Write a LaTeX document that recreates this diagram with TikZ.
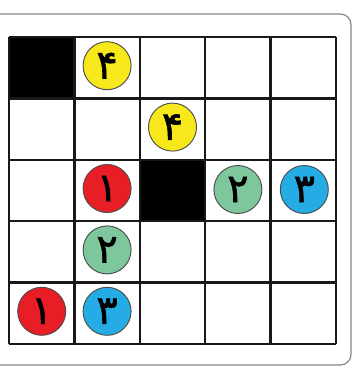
\documentclass[tikz,border=0pt]{standalone}
\usepackage{fontspec}
\newfontfamily\arabicfont[Script=Arabic, FakeBold=1.5]{DejaVu Sans}
\TeXXeTstate=1
\definecolor{tokyellow}{RGB}{247,232,28}
\definecolor{tokred}{RGB}{232,30,38}
\definecolor{tokgreen}{RGB}{126,198,156}
\definecolor{tokblue}{RGB}{38,172,228}
\definecolor{framegray}{RGB}{130,130,130}
\newcommand{\fadigit}[1]{\arabicfont\beginR #1\endR}

\begin{document}
\begin{tikzpicture}[
    x=0.03cm, y=-0.03cm,
    gridline/.style={line width=1.9pt, draw=black!90},
    token/.style={circle, draw=black!70, line width=0.8pt, inner sep=0pt,
                  minimum size=1.44cm, font=\fontsize{34}{34}\selectfont}
]
\path[use as bounding box] (0,0) rectangle (355,367);
\clip (0,0) rectangle (355,367);
% outer frame
\draw[framegray, line width=1pt, rounded corners=9pt] (-12,14) rectangle (351,365);
% blocked cells
\fill[black] (9,37) rectangle (74.4,98.4);
\fill[black] (139.8,159.8) rectangle (205.2,221.2);
% grid
\foreach \i in {0,...,5}
  \draw[gridline] ({9+65.4*\i},37) -- ({9+65.4*\i},344);
\foreach \j in {0,...,5}
  \draw[gridline] (9,{37+61.4*\j}) -- (336,{37+61.4*\j});
% tokens
\node[token, fill=tokyellow] (yellowA) at (107.1,65.7) {\fadigit{۴}};
\node[token, fill=tokyellow] (yellowB) at (172.5,127.1) {\fadigit{۴}};
\node[token, fill=tokred]    (redA)    at (107.1,188.5) {\fadigit{۱}};
\node[token, fill=tokgreen]  (greenA)  at (237.9,189.5) {\fadigit{۲}};
\node[token, fill=tokblue]   (blueA)   at (304.3,189.5) {\fadigit{۳}};
\node[token, fill=tokgreen]  (greenB)  at (107.1,249.9) {\fadigit{۲}};
\node[token, fill=tokred]    (redB)    at (41.7,311.3) {\fadigit{۱}};
\node[token, fill=tokblue]   (blueB)   at (107.1,311.3) {\fadigit{۳}};
\end{tikzpicture}
\end{document}
